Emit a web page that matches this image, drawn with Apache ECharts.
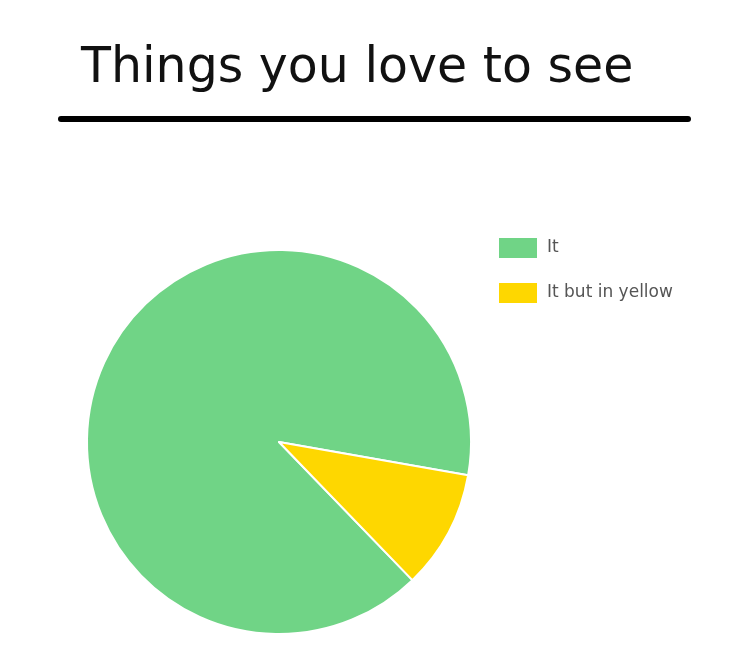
<!DOCTYPE html>
<html>
<head>
<meta charset="utf-8">
<script src="https://cdn.jsdelivr.net/npm/echarts@6/dist/echarts.min.js"></script>
<style>
  html, body { margin: 0; padding: 0; background: #fff; }
  #chart { width: 750px; height: 650px; }
</style>
</head>
<body>
<div id="chart"></div>
<script>
const categories = ['It', 'It but in yellow']
const values = [90, 10]
const colors = ['#70d486', '#fed700']

const chart = echarts.init(document.getElementById('chart'))

chart.setOption({
  backgroundColor: '#fff',
  title: {
    text: 'Things you love to see',
    left: 76,
    top: 40,
    textStyle: { fontFamily: 'DejaVu Sans', fontWeight: 'normal', fontSize: 49, color: '#111' },
  },
  graphic: [
    {
      type: 'rect',
      shape: { x: 58, y: 116, width: 633, height: 6, r: 3 },
      style: { fill: '#000' },
    },
  ],
  legend: {
    orient: 'vertical',
    left: 497,
    top: 236,
    padding: 0,
    itemWidth: 40,
    itemHeight: 22,
    itemGap: 21,
    icon: 'rect',
    textStyle: { fontFamily: 'DejaVu Sans', fontSize: 17, color: '#555', padding: [0, 0, 0, 4] },
    data: categories,
  },
  series: [
    {
      type: 'pie',
      center: [279, 442],
      radius: 192,
      startAngle: 314,
      clockwise: true,
      label: { show: false },
      labelLine: { show: false },
      emphasis: { disabled: true },
      itemStyle: { borderColor: '#fff', borderWidth: 2 },
      data: categories.map((name, i) => ({ name, value: values[i], itemStyle: { color: colors[i] } })),
    },
  ],
})
</script>
</body>
</html>
